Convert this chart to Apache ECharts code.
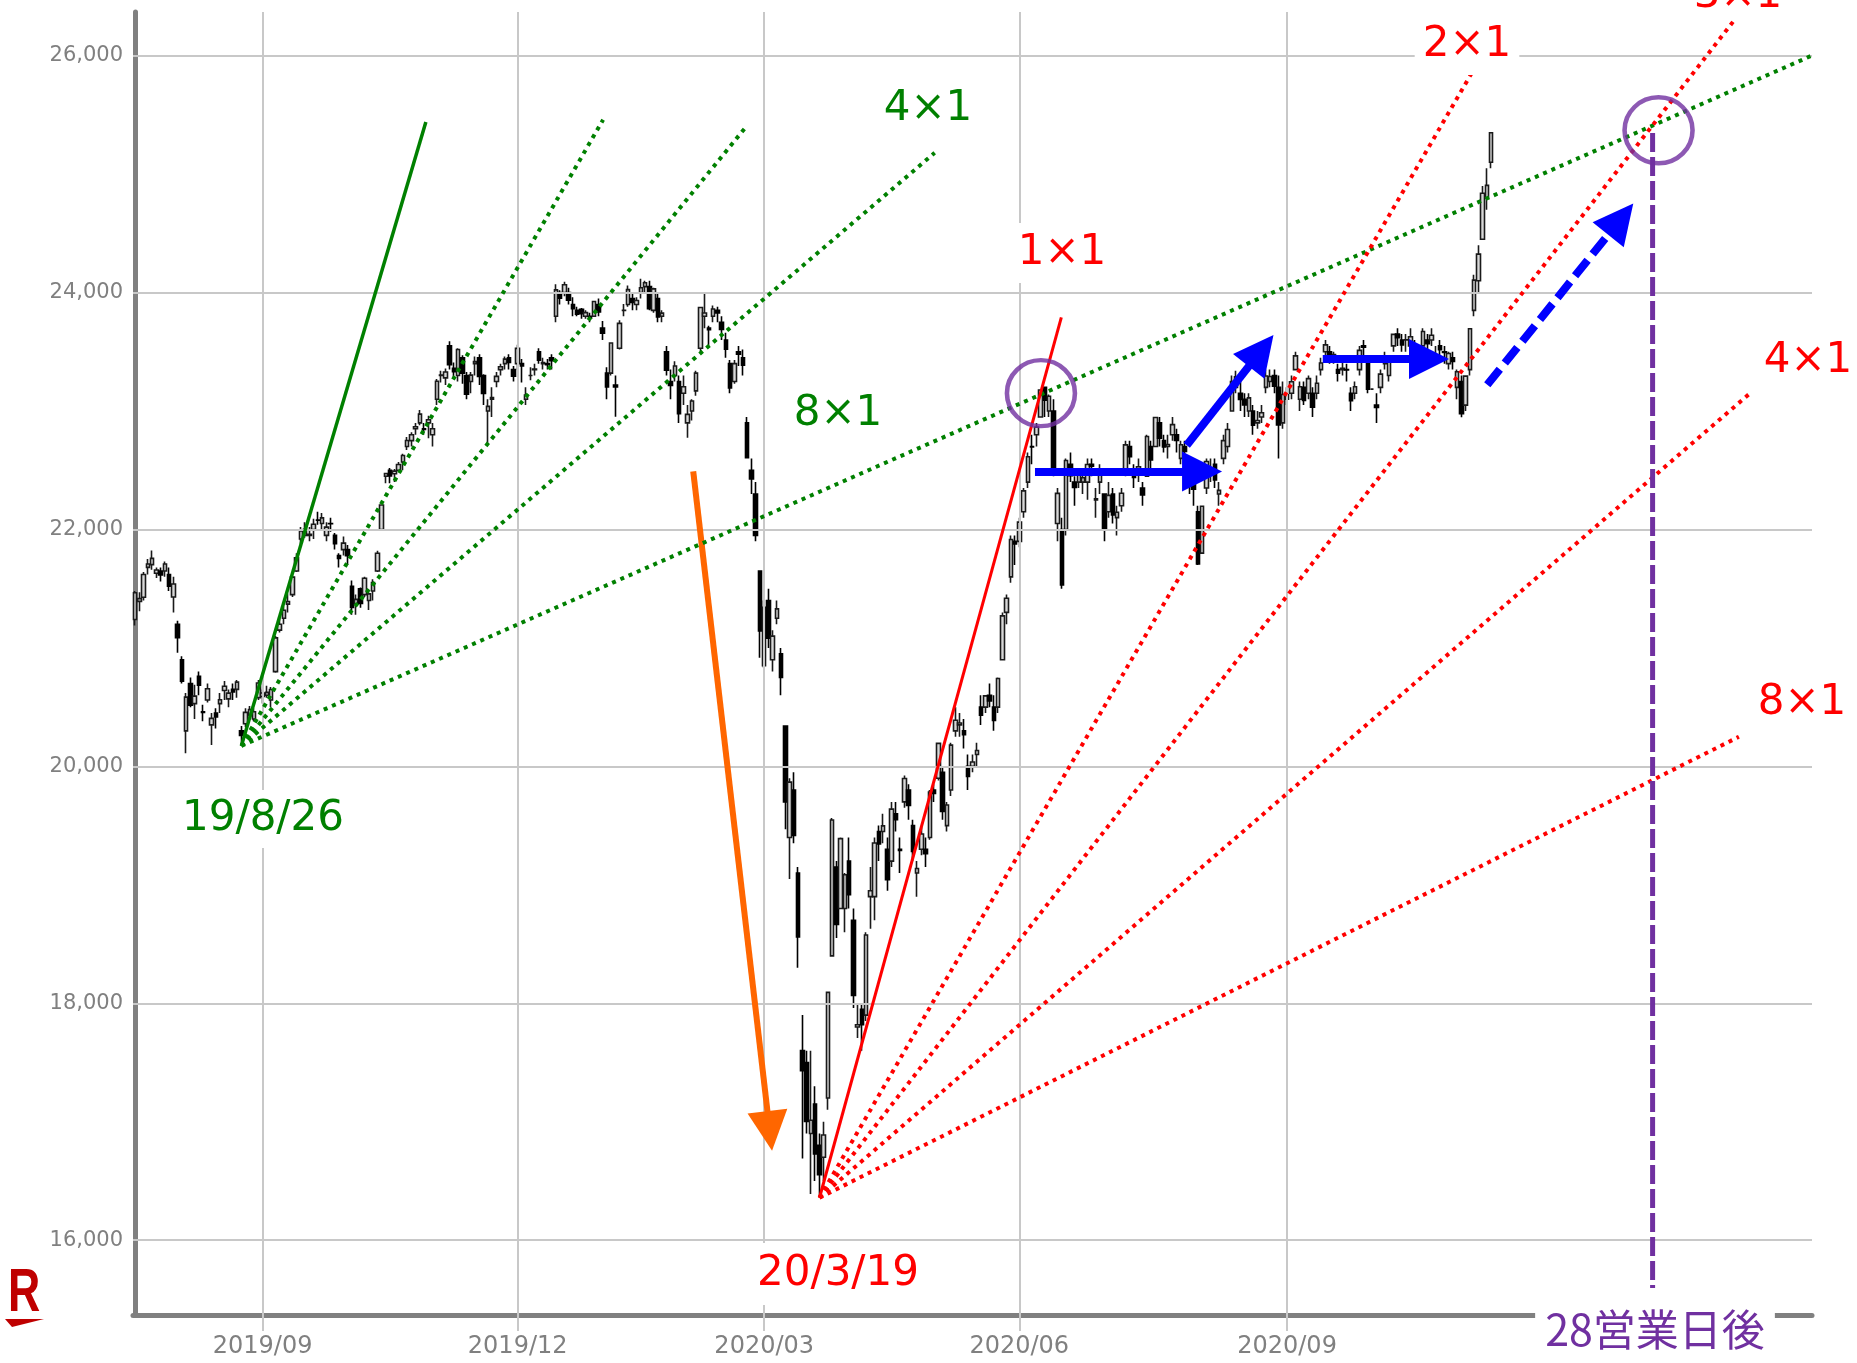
<!DOCTYPE html>
<html>
<head>
<meta charset="utf-8">
<script src="https://cdn.jsdelivr.net/npm/echarts@6/dist/echarts.min.js"></script>
<style>
html,body{margin:0;padding:0;background:#fff}
#c1{width:1857px;height:1363px}
</style>
</head>
<body>
<div id="c1"></div>
<script>
// daily candles, [open, close, low, high]
var jul2019 = [[21240,21466,21190,21480],[21393,21416,21310,21470],[21428,21620,21400,21640],[21680,21709,21620,21750],[21703,21756,21660,21823],[21630,21658,21590,21680],[21650,21616,21560,21680],[21650,21709,21600,21730],[21620,21521,21480,21680]];
var aug2019 = [[21430,21540,21300,21600],[21200,21087,20960,21230],[20900,20720,20700,20930],[20300,20585,20110,20620],[20700,20516,20500,20750],[20530,20593,20400,20690],[20760,20685,20600,20800],[20460,20455,20380,20520],[20560,20655,20540,20700],[20350,20405,20180,20450],[20450,20418,20320,20490],[20530,20563,20450,20620],[20640,20677,20560,20720],[20570,20618,20500,20650],[20650,20628,20560,20700],[20650,20711,20580,20730],[20300,20261,20173,20340],[20360,20456,20330,20490],[20430,20479,20400,20510],[20400,20461,20380,20490],[20580,20704,20560,20730]];
var sep2019 = [[20590,20620,20530,20650],[20600,20625,20580,20680],[20560,20649,20500,20670],[20800,21085,20790,21100],[21150,21200,21130,21250],[21250,21318,21200,21350],[21370,21392,21300,21460],[21450,21598,21430,21610],[21650,21760,21640,21800],[21920,21988,21880,22020],[21950,22001,21930,22060],[21950,21960,21900,22020],[22000,22044,21920,22090],[22080,22079,22040,22150],[22050,22098,22000,22140],[21950,22020,21900,22060],[22050,22048,21980,22100],[21950,21879,21830,21970],[21780,21756,21680,21800]];
var oct2019 = [[21830,21885,21780,21940],[21830,21778,21700,21870],[21520,21342,21280,21570],[21370,21410,21280,21450],[21500,21375,21340,21510],[21450,21588,21430,21600],[21400,21456,21320,21470],[21480,21552,21400,21580],[21650,21799,21640,21820],[22000,22207,21990,22210],[22450,22473,22390,22480],[22500,22452,22390,22520],[22470,22493,22400,22510],[22500,22549,22490,22570],[22570,22625,22500,22640],[22700,22751,22670,22780],[22750,22800,22700,22820],[22850,22867,22800,22900],[22900,22974,22880,23008],[22850,22844,22800,22900],[22900,22927,22770,22960]];
var nov2019 = [[22800,22851,22700,22900],[23100,23251,23050,23270],[23300,23303,23240,23340],[23280,23330,23220,23360],[23550,23392,23350,23590],[23360,23332,23270,23410],[23300,23520,23250,23530],[23450,23320,23230,23470],[23300,23142,23100,23330],[23250,23303,23150,23330],[23400,23417,23300,23460],[23450,23293,23220,23480],[23300,23149,23050,23310],[23000,23039,22730,23100],[23100,23113,22950,23200],[23250,23293,23200,23330],[23350,23374,23300,23400],[23400,23438,23350,23460],[23450,23410,23350,23480],[23350,23294,23250,23380]];
var dec2019 = [[23400,23529,23350,23560],[23400,23380,23240,23440],[23100,23135,23050,23200],[23300,23300,23260,23370],[23350,23354,23300,23400],[23500,23430,23400,23530],[23400,23410,23350,23450],[23400,23391,23350,23440],[23450,23425,23350,23480],[23800,24023,23750,24070],[24000,23953,23900,24020],[24000,24066,23970,24091],[24000,23935,23900,24040],[23900,23865,23800,23960],[23850,23817,23800,23880],[23860,23821,23780,23870],[23800,23831,23780,23850],[23800,23783,23750,23830],[23800,23925,23800,23930],[23900,23837,23800,23950],[23700,23657,23600,23760]];
var jan2020 = [[23320,23204,23100,23370],[23320,23575,23300,23577],[23220,23204,22951,23300],[23530,23740,23520,23767],[23850,23851,23800,23903],[23900,24025,23880,24059],[23950,23917,23850,24000],[23900,23933,23850,23960],[24000,24041,23950,24116],[24050,24083,24000,24100],[24050,23865,23850,24100],[23850,24031,23830,24040],[23950,23795,23750,24000],[23800,23827,23750,23850],[23500,23344,23300,23550],[23250,23216,23100,23350],[23300,23380,23250,23420],[23250,22977,22900,23300],[23150,23205,23050,23300]];
var feb2020 = [[22900,22972,22775,23050],[23000,23085,22920,23100],[23170,23320,23130,23340],[23530,23874,23500,23880],[23800,23828,23700,23995],[23700,23686,23550,23720],[23800,23861,23750,23890],[23850,23828,23750,23880],[23750,23688,23600,23800],[23600,23523,23450,23660],[23400,23194,23150,23430],[23250,23400,23230,23430],[23500,23479,23380,23550],[23450,23387,23300,23520],[22900,22606,22600,22950],[22500,22427,22300,22600],[22300,21949,21900,22400],[21650,21143,20916,21650]];
var mar2020 = [[20850,21344,20834,21400],[21400,21083,21000,21500],[20900,21100,20800,21150],[21250,21330,21200,21400],[20950,20750,20600,21000],[20340,19699,19470,20340],[19400,19867,19050,19900],[19800,19416,19350,19950],[19100,18560,18300,19150],[17600,17431,16690,17900],[17500,17002,16900,17600],[16900,17012,16390,17600],[17150,16727,16500,17300],[16800,16553,16358,16900],[16700,16888,16500,17000],[17200,18092,17100,18100],[18400,19547,18400,19564],[19150,18665,18550,19200],[18800,19390,18800,19400],[18800,19085,18600,19100],[19200,18917,18800,19400]];
var apr2020 = [[18700,18065,17960,18800],[17800,17819,17707,18000],[17950,17820,17600,18000],[17900,18576,17850,18600],[18900,18950,18630,19150],[18900,19353,18700,19400],[19450,19345,19200,19500],[19450,19498,19350,19600],[19300,19043,18950,19400],[19200,19639,19150,19700],[19600,19550,19450,19700],[19300,19290,19100,19400],[19700,19897,19650,19923],[19800,19669,19550,19850],[19500,19281,19200,19550],[19100,19138,18900,19200],[19300,19429,19250,19500],[19300,19262,19150,19400],[19400,19783,19380,19800],[19800,19771,19700,19850],[19900,20194,19880,20200]];
var may2020 = [[19950,19619,19550,20000],[19500,19674,19450,19700],[19800,20179,19750,20200],[20300,20390,20250,20500],[20350,20366,20250,20450],[20300,20267,20150,20400],[20000,19915,19800,20100],[20000,20037,19950,20100],[20100,20134,20000,20200],[20500,20433,20350,20600],[20500,20595,20450,20600],[20600,20552,20500,20700],[20500,20388,20300,20600],[20500,20742,20450,20750],[20900,21271,20900,21300],[21300,21419,21200,21450],[21600,21916,21550,21950],[21900,21878,21700,21950]];
var jun2020 = [[21900,22062,21850,22100],[22150,22326,22100,22350],[22400,22614,22350,22650],[22700,22696,22550,22800],[22800,22864,22700,22900],[22950,23178,22950,23185],[23200,23092,22950,23200],[23000,23125,22950,23140],[23000,22473,22450,23100],[22050,22305,21900,22350],[22000,21531,21500,22100],[22000,22583,21950,22600],[22550,22455,22400,22650],[22400,22355,22200,22450],[22400,22479,22350,22500],[22400,22437,22300,22500],[22400,22549,22250,22600],[22550,22534,22450,22600],[22250,22260,22100,22350],[22400,22512,22300,22550],[22300,21995,21900,22300],[22150,22288,22100,22400]];
var jul2020 = [[22300,22122,22050,22350],[22100,22146,21950,22200],[22200,22306,22150,22350],[22500,22714,22450,22750],[22700,22615,22550,22750],[22500,22439,22350,22550],[22500,22529,22400,22600],[22350,22291,22200,22400],[22450,22785,22450,22800],[22700,22588,22500,22750],[22700,22946,22700,22950],[22900,22770,22700,22950],[22750,22696,22650,22800],[22700,22717,22600,22800],[22800,22885,22750,22950],[22800,22752,22650,22850],[22600,22716,22550,22750],[22700,22658,22600,22750],[22500,22397,22300,22550],[22400,22340,22200,22450],[22150,21710,21700,22200]];
var aug2020 = [[21800,22196,21800,22200],[22350,22574,22300,22600],[22500,22515,22400,22600],[22550,22419,22350,22600],[22300,22330,22200,22400],[22600,22750,22550,22800],[22700,22844,22650,22900],[23000,23250,23000,23300],[23200,23289,23150,23340],[23150,23097,23000,23250],[23100,23051,22950,23150],[23000,23111,22950,23150],[23000,22880,22800,23050],[22900,22920,22850,23000],[22950,22985,22900,23050],[23200,23296,23150,23350],[23250,23291,23200,23350],[23300,23209,23150,23350],[23200,22883,22600,23300],[22900,23140,22850,23250]];
var sep2020 = [[23100,23138,23050,23200],[23150,23247,23100,23300],[23350,23466,23350,23500],[23100,23205,23000,23250],[23200,23089,23050,23250],[23150,23274,23100,23300],[23150,23033,22950,23200],[23150,23235,23100,23300],[23350,23406,23300,23450],[23500,23559,23450,23600],[23500,23455,23400,23550],[23450,23476,23400,23500],[23350,23320,23250,23400],[23350,23360,23300,23450],[23350,23347,23250,23400],[23150,23088,23000,23200],[23150,23205,23100,23250],[23350,23512,23300,23550],[23550,23540,23450,23600],[23400,23185,23150,23450]];
var oct2020 = [[23185,23185,23185,23185],[23050,23030,22900,23150],[23200,23312,23150,23350],[23400,23433,23350,23500],[23300,23423,23250,23450],[23550,23647,23500,23650],[23650,23620,23550,23700],[23600,23559,23500,23650],[23600,23602,23500,23650],[23550,23627,23500,23700],[23550,23508,23450,23600],[23450,23411,23350,23500],[23550,23672,23550,23700],[23600,23568,23500,23650],[23600,23640,23550,23700],[23450,23475,23400,23550],[23550,23517,23450,23600],[23500,23495,23400,23550],[23400,23486,23350,23500],[23450,23419,23350,23500],[23200,23332,23100,23350],[23250,22977,22948,23300]];
var nov2020 = [[23050,23295,23000,23300],[23350,23695,23300,23700],[23850,24105,23800,24150],[24100,24325,24000,24400],[24450,24839,24450,24900],[24800,24905,24700,25050],[25100,25349,25050,25350]];

// market holidays (weekdays the exchange was closed)
var holidays = ['2019/08/12','2019/09/16','2019/09/23','2019/10/14','2019/10/22','2019/11/04','2019/12/31',
  '2020/01/01','2020/01/02','2020/01/03','2020/01/13','2020/02/11','2020/02/24','2020/03/20','2020/04/29',
  '2020/05/04','2020/05/05','2020/05/06','2020/07/23','2020/07/24','2020/08/10','2020/09/21','2020/09/22','2020/11/03'];
var firstDay = '2019/07/19', lastDay = '2020/11/11';
var blankDays = 75;   // empty room on the right of the last candle

var tickMonths = ['2019/09','2019/12','2020/03','2020/06','2020/09'];
var yTicks = [16000,18000,20000,22000,24000,26000];

// Gann fans: [day index, price] end points
var greenStart = '2019/08/26', greenLow = 20173;
var greenEnds = [[68.4,25440],[110.1,25460],[143.5,25390],[188.1,25180],[396.3,26030]];
var redStart = '2020/03/19', redLow = 16358;
var redEnds = [[217.9,23791],[314.7,25870],[376.0,26290],[379.6,23140],[377.3,20250]];

// arrows: [start, head centre] as [day index, price]
var orangeArrow = [[131.3,22490],[149.3,16922]];
var blueArrows = [[[211.7,22490],[251.0,22490]],[[247.4,22711],[264.9,23510]],[[279.4,23440],[304.4,23440]]];
var blueDashArrow = [[318.1,23221],[349.5,24620]];
var circles = [[213.1,23151],[358.4,25370]];
var purpleLine = [[357,25347],[357,15596]];

function tradingDays(from, to, off) {
  var out = [];
  var d = new Date(from.replace(/\//g,'-') + 'T00:00:00Z');
  var end = new Date(to.replace(/\//g,'-') + 'T00:00:00Z');
  while (d <= end) {
    var wd = d.getUTCDay();
    var s = d.getUTCFullYear() + '/' + ('0' + (d.getUTCMonth() + 1)).slice(-2) + '/' + ('0' + d.getUTCDate()).slice(-2);
    if (wd !== 0 && wd !== 6 && off.indexOf(s) < 0) out.push(s);
    d.setUTCDate(d.getUTCDate() + 1);
  }
  return out;
}

var dates = tradingDays(firstDay, lastDay, holidays);
var candles = [].concat(jul2019, aug2019, sep2019, oct2019, nov2019, dec2019, jan2020, feb2020,
  mar2020, apr2020, may2020, jun2020, jul2020, aug2020, sep2020, oct2020, nov2020);
var cats = dates.slice();
for (var k = 1; k <= blankDays; k++) cats.push('+' + k);
var N = cats.length;

var tickIdx = tickMonths.map(function (m) {
  for (var i = 0; i < dates.length; i++) if (dates[i].slice(0, 7) === m) return i;
  return -1;
});
function isTick(i) { return tickIdx.indexOf(i) >= 0; }

var GREEN = '#008000', RED = '#ff0000', BLUE = '#0000ff', ORANGE = '#ff6600', PURPLE = '#7030a0';

function fanSeries(start, low, ends, color, solidWidth, dotWidth) {
  var o = [dates.indexOf(start), low];
  return ends.map(function (e, j) {
    return {
      type: 'line', xAxisIndex: 1, yAxisIndex: 0, silent: true, z: 6,
      symbol: 'none', data: [o, e],
      lineStyle: j === 0 ? {color: color, width: solidWidth, type: 'solid'}
                         : {color: color, width: dotWidth, type: [4, 5]}
    };
  });
}

function arrowSeries(seg, color, width, head, dash) {
  return {
    type: 'line', xAxisIndex: 1, yAxisIndex: 0, silent: true, z: 8, data: [],
    markLine: {
      silent: true, animation: false, symbol: ['none', 'triangle'], symbolSize: head,
      label: {show: false}, emphasis: {disabled: true},
      lineStyle: {color: color, width: width, type: dash || 'solid', opacity: 1},
      data: [[{coord: seg[0]}, {coord: seg[1]}]]
    }
  };
}

var gridLines = [];
yTicks.forEach(function (v) { gridLines.push({yAxis: v}); });
tickIdx.forEach(function (i) { gridLines.push({xAxis: i}); });

var series = [
  {
    type: 'line', xAxisIndex: 1, yAxisIndex: 0, silent: true, z: 1, data: [],
    markLine: {
      silent: true, animation: false, symbol: 'none', label: {show: false},
      emphasis: {disabled: true},
      lineStyle: {color: '#c8c8c8', width: 2, type: 'solid'},
      data: gridLines
    }
  },
  {
    type: 'candlestick', xAxisIndex: 0, yAxisIndex: 0, z: 3, barWidth: 4,
    data: candles,
    itemStyle: {color: '#d8d8d8', color0: '#000000', borderColor: '#1a1a1a', borderColor0: '#000000', borderWidth: 1.6}
  }
];
series = series.concat(fanSeries(greenStart, greenLow, greenEnds, GREEN, 3.5, 4));
series = series.concat(fanSeries(redStart, redLow, redEnds, RED, 3, 4));
series.push(arrowSeries(orangeArrow, ORANGE, 6, 40));
blueArrows.forEach(function (a) { series.push(arrowSeries(a, BLUE, 8, 40)); });
series.push(arrowSeries(blueDashArrow, BLUE, 8, 40, [20, 8]));
series.push({
  type: 'line', xAxisIndex: 1, yAxisIndex: 0, silent: true, z: 7, symbol: 'none',
  data: purpleLine, lineStyle: {color: PURPLE, width: 5, type: [19, 5]}
});
series.push({
  type: 'scatter', xAxisIndex: 1, yAxisIndex: 0, silent: true, z: 9,
  symbol: 'circle', symbolSize: [68, 66], data: circles,
  itemStyle: {color: 'rgba(0,0,0,0)', borderColor: PURPLE, borderWidth: 4.5}
});

function label(text, x, y, color, opts) {
  opts = opts || {};
  var st = {
    text: text, fill: color,
    font: (opts.size || 42) + 'px ' + (opts.family || '"DejaVu Sans"'),
    align: 'center', verticalAlign: 'middle', textAlign: 'center', textVerticalAlign: 'middle'
  };
  if (opts.bg) { st.backgroundColor = '#ffffff'; st.padding = opts.pad || [6, 8]; }
  return {type: 'text', x: x, y: y, z: 100, silent: true, style: st};
}

var graphics = [
  label('19/8/26', 263, 819, GREEN, {bg: true, pad: [12, 10, 4, 10]}),
  label('4\u00d71', 928, 109, GREEN),
  label('8\u00d71', 838, 414, GREEN),
  label('20/3/19', 838, 1274, RED, {bg: true, pad: [16, 14, 4, 14]}),
  label('1\u00d71', 1062, 253, RED, {bg: true, pad: [16, 8, 2, 8]}),
  label('2\u00d71', 1467, 45, RED, {bg: true, pad: [6, 8, 12, 8]}),
  label('3\u00d71', 1738, -4, RED),
  label('4\u00d71', 1808, 361, RED),
  label('8\u00d71', 1802, 703, RED),
  label('28営業日後', 1655, 1330, PURPLE, {size: 43, family: '"Noto Sans CJK JP"', bg: true, pad: [4, 10, 4, 10]}),
  {type: 'text', x: 24, y: 1294, z: 100, silent: true, scaleX: 0.72,
   style: {text: 'R', fill: '#bf0000', font: 'bold 62px "Liberation Sans", Arial, sans-serif', align: 'center', verticalAlign: 'middle', textAlign: 'center', textVerticalAlign: 'middle'}},
  {type: 'polygon', z: 100, silent: true, shape: {points: [[5, 1319], [44, 1319], [12, 1327]]}, style: {fill: '#bf0000'}}
];

var chart = echarts.init(document.getElementById('c1'));
chart.setOption({
  animation: false,
  backgroundColor: '#ffffff',
  grid: {left: 133, right: 45, top: 12, bottom: 48, containLabel: false, outerBoundsMode: 'none'},
  xAxis: [
    {
      type: 'category', data: cats, boundaryGap: true,
      axisLine: {show: true, lineStyle: {color: '#808080', width: 5}},
      axisTick: {show: true, alignWithLabel: true, interval: function (i) { return isTick(i); }, length: 16, lineStyle: {color: '#c8c8c8', width: 2}},
      axisLabel: {
        interval: function (i) { return isTick(i); },
        formatter: function (v) { return v.slice(0, 7); },
        color: '#808080', fontSize: 24, fontFamily: 'DejaVu Sans', margin: 20
      },
      splitLine: {show: false}
    },
    {type: 'value', min: -0.5, max: N - 0.5, show: false}
  ],
  yAxis: {
    type: 'value', min: 15368, max: 26369, scale: true,
    axisLine: {show: true, lineStyle: {color: '#808080', width: 5}},
    axisTick: {show: false},
    splitLine: {show: false},
    axisLabel: {
      customValues: yTicks,
      formatter: function (v) { return String(v).replace(/\B(?=(\d{3})+(?!\d))/g, ','); },
      color: '#808080', fontSize: 21, fontFamily: 'DejaVu Sans', margin: 10
    }
  },
  series: series,
  graphic: graphics
});
</script>
</body>
</html>
